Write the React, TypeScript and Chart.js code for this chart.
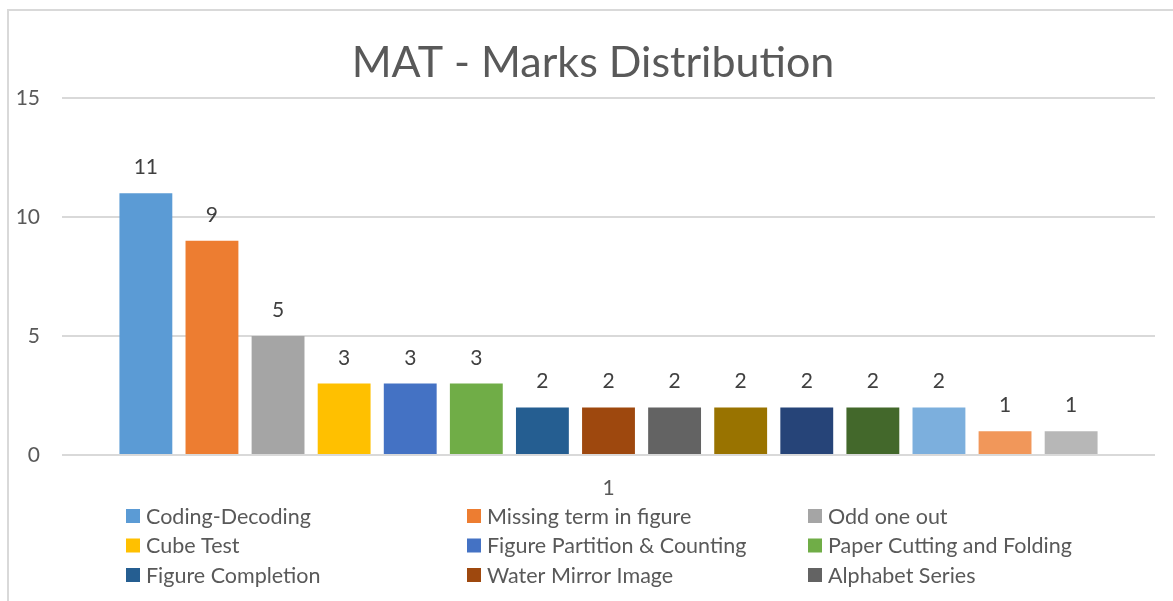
import React, { useEffect, useRef } from "react";
import { Chart, registerables } from "chart.js";

Chart.register(...registerables);

const chartTitle = "MAT - Marks Distribution";
const categories = ["1"];
const seriesNames = [
  "Coding-Decoding",
  "Missing term in figure",
  "Odd one out",
  "Cube Test",
  "Figure Partition & Counting",
  "Paper Cutting and Folding",
  "Figure Completion",
  "Water Mirror Image",
  "Alphabet Series",
  "Embedded Figures",
  "Pattern Completion",
  "Dot Situation",
  "Analogy",
  "Classification",
  "Series Completion",
];
const seriesValues = [11, 9, 5, 3, 3, 3, 2, 2, 2, 2, 2, 2, 2, 1, 1];
const seriesColors = [
  "#5B9BD5",
  "#ED7D31",
  "#A5A5A5",
  "#FFC000",
  "#4472C4",
  "#70AD47",
  "#255E91",
  "#9E480E",
  "#636363",
  "#997300",
  "#264478",
  "#43682B",
  "#7CAFDD",
  "#F1975A",
  "#B7B7B7",
];
const yTicks = [0, 5, 10, 15];
// the legend box only has room for three rows (like the source's truncated legend)
const legendVisibleRows = 3;

const FONT = "Lato, 'Open Sans', sans-serif";

const framePlugin = {
  id: "frame",
  beforeDraw(chart: any) {
    const ctx = chart.ctx;
    ctx.save();
    ctx.fillStyle = "#ffffff";
    ctx.fillRect(0, 0, chart.width, chart.height);
    ctx.fillStyle = "#d9d9d9";
    ctx.fillRect(7, 9, 2, chart.height - 9);
    ctx.fillRect(7, 9, chart.width - 7, 2);
    ctx.restore();
  },
};

const titlePlugin = {
  id: "excelTitle",
  afterDraw(chart: any) {
    const ctx = chart.ctx;
    ctx.save();
    ctx.font = `43px ${FONT}`;
    ctx.fillStyle = "#595959";
    ctx.textAlign = "center";
    ctx.textBaseline = "alphabetic";
    ctx.fillText(chartTitle, 593, 77);
    ctx.restore();
  },
};

const dataLabelPlugin = {
  id: "barValues",
  afterDatasetsDraw(chart: any) {
    const ctx = chart.ctx;
    ctx.save();
    ctx.font = `21px ${FONT}`;
    ctx.fillStyle = "#404040";
    ctx.textAlign = "center";
    ctx.textBaseline = "alphabetic";
    chart.data.datasets.forEach((ds: any, i: number) => {
      const meta = chart.getDatasetMeta(i);
      meta.data.forEach((el: any, j: number) => {
        ctx.fillText(String(ds.data[j]), el.x, el.y - 19);
      });
    });
    ctx.restore();
  },
};

const legendPlugin = {
  id: "gridLegend",
  afterDraw(chart: any) {
    const ctx = chart.ctx;
    ctx.save();
    ctx.font = `21.5px ${FONT}`;
    ctx.textAlign = "left";
    ctx.textBaseline = "middle";
    chart.data.datasets.forEach((ds: any, i: number) => {
      const col = i % 3;
      const row = Math.floor(i / 3);
      if (row >= legendVisibleRows) return;
      const x = 126 + col * 341;
      const y = 516 + row * 29.5;
      ctx.fillStyle = ds.backgroundColor;
      ctx.fillRect(x, y - 7, 14, 14);
      ctx.fillStyle = "#595959";
      ctx.fillText(ds.label, x + 20, y + 1);
    });
    ctx.restore();
  },
};

export default function App() {
  const ref = useRef<HTMLCanvasElement | null>(null);

  useEffect(() => {
    if (!ref.current) return;
    const chart = new Chart(ref.current, {
      type: "bar",
      data: {
        labels: categories,
        datasets: seriesNames.map((name, i) => ({
          label: name,
          data: [seriesValues[i]],
          backgroundColor: seriesColors[i],
          borderWidth: 0,
          categoryPercentage: 0.907,
          barPercentage: 0.8,
        })),
      },
      options: {
        animation: false,
        responsive: false,
        maintainAspectRatio: false,
        layout: { padding: { left: 14, right: 18, top: 98, bottom: 0 } },
        plugins: {
          legend: { display: false },
          title: { display: false },
          tooltip: { enabled: false },
        },
        scales: {
          x: {
            grid: { display: false },
            border: { display: false },
            ticks: {
              color: "#595959",
              font: { family: FONT, size: 21 },
              padding: 13,
            },
            afterFit(scale: any) {
              scale.height = 146;
            },
          },
          y: {
            min: yTicks[0],
            max: yTicks[yTicks.length - 1],
            afterBuildTicks(scale: any) {
              scale.ticks = yTicks.map((v) => ({ value: v }));
            },
            grid: { color: "#d9d9d9", lineWidth: 2, drawTicks: false },
            border: { display: false },
            ticks: {
              color: "#595959",
              font: { family: FONT, size: 21 },
              padding: 22,
            },
            afterFit(scale: any) {
              scale.width = 48;
            },
          },
        },
      },
      plugins: [framePlugin, dataLabelPlugin, titlePlugin, legendPlugin],
    });
    return () => chart.destroy();
  }, []);

  return (
    <div style={{ position: "fixed", left: 0, top: 0, width: 1173, height: 601, overflow: "hidden", background: "#fff" }}>
      <canvas ref={ref} width={1173} height={601} style={{ width: 1173, height: 601, display: "block" }} />
    </div>
  );
}
